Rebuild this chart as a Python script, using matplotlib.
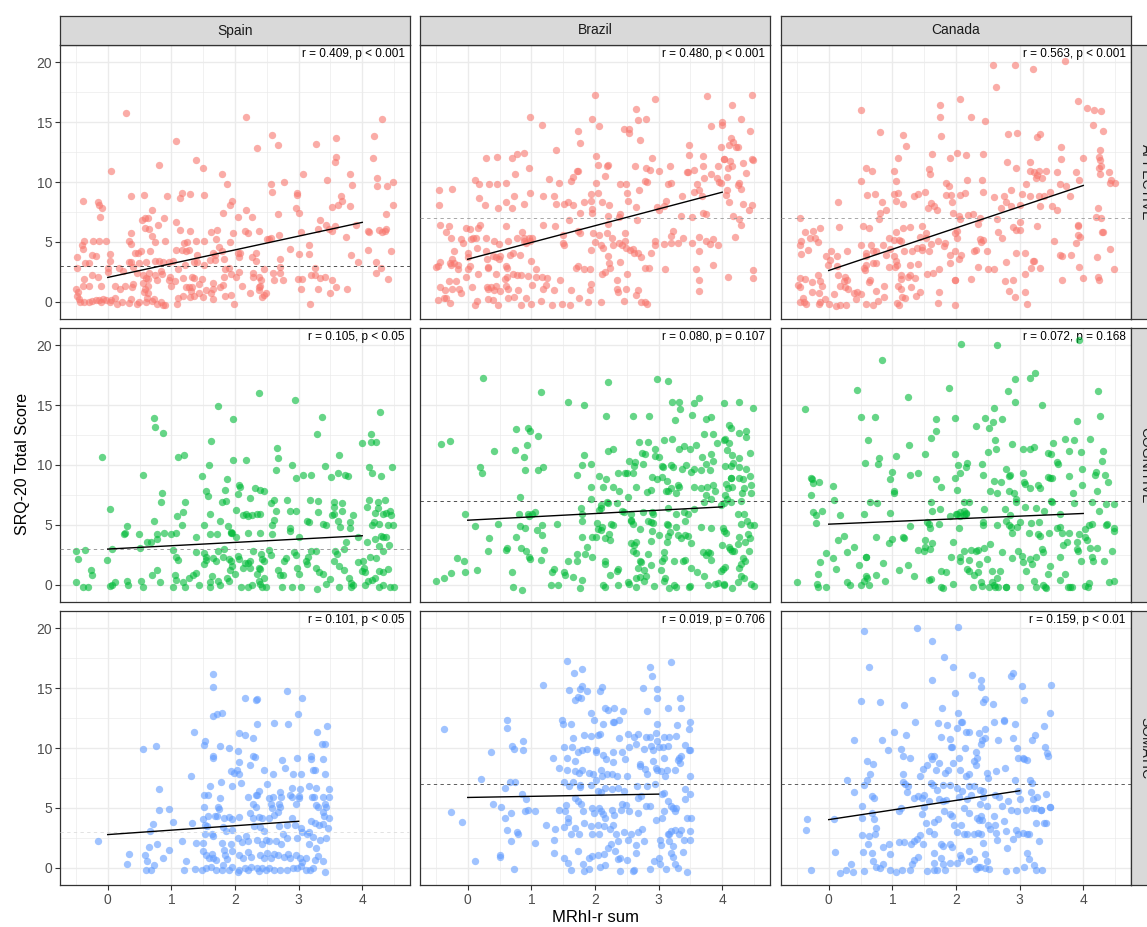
import matplotlib
matplotlib.use('Agg')
import matplotlib.pyplot as plt
import numpy as np

plt.rcParams['font.family'] = ['Liberation Sans', 'DejaVu Sans']

countries = ['Spain', 'Brazil', 'Canada']
domains = ['AFFECTIVE', 'COGNITIVE', 'SOMATIC']

# r / p annotations per domain (rows) and country (cols)
stats_text = [
    ['r = 0.409, p < 0.001', 'r = 0.480, p < 0.001', 'r = 0.563, p < 0.001'],
    ['r = 0.105, p < 0.05', 'r = 0.080, p = 0.107', 'r = 0.072, p = 0.168'],
    ['r = 0.101, p < 0.05', 'r = 0.019, p = 0.706', 'r = 0.159, p < 0.01'],
]
# clinical cutoff lines
cutoffs = [[3, 7, 7], [3, 7, 7], [3, 7, 7]]
# linear fits: intercept, slope, fitted x range max
fit_intercept = [[2.03, 3.55, 2.61], [2.98, 5.39, 5.06], [2.77, 5.87, 4.02]]
fit_slope = [[1.15, 1.40, 1.775], [0.278, 0.278, 0.223], [0.37, 0.093, 0.803]]
fit_xmax = [4, 4, 3]

# jittered (MRhI-r sum, SRQ-20 score) pairs
pts_spain_aff = [(0.29,15.8),(2.18,15.4),(4.31,15.3),(2.58,13.9),(3.59,13.7),(4.19,13.8),(1.07,13.4),(2.68,13.1),(3.27,13.2),(2.34,12.8),(3.58,12.1),(3.57,11.7),(4.17,12.0),(1.39,11.8),(0.81,11.4),(1.50,11.2),(0.05,10.9),(1.79,10.7),(3.07,10.7),(3.81,10.7),(3.44,10.2),(4.23,10.3),(4.49,10.0),(2.77,10.0),(1.87,9.8),(3.84,9.75),(2.56,9.8),(4.39,9.7),(4.23,9.7),(2.58,9.2),(2.98,9.1),(2.97,8.9),(1.16,9.1),(1.13,8.7),(1.30,9.0),(1.52,8.9),(0.57,8.9),(0.36,8.8),(0.93,8.8),(-0.39,8.4),(-0.15,8.3),(-0.13,8.1),(-0.09,7.8),(-0.12,7.1),(3.67,8.8),(3.68,8.4),(3.62,8.1),(3.80,8.0),(4.49,8.1),(1.96,8.4),(1.92,8.1),(2.96,7.8),(3.0,7.4),(3.52,7.9),(4.38,7.3),(1.81,7.4),(2.04,7.1),(2.18,7.7),(2.26,7.1),(2.68,7.3),(0.70,7.7),(0.54,6.8),(0.59,7.0),(0.63,7.0),(1.07,6.7),(0.88,7.0),(0.58,6.2),(0.65,6.1),(0.79,6.4),(0.70,5.5),(0.36,5.75),(1.13,6.0),(1.30,5.9),(1.62,5.8),(1.72,6.0),(1.97,5.7),(2.16,5.9),(2.21,5.75),(2.38,5.9),(2.53,5.2),(2.69,5.6),(3.33,6.8),(3.43,6.4),(3.47,6.1),(3.57,6.3),(3.30,6.1),(3.53,5.9),(3.74,5.4),(3.04,5.8),(4.09,5.9),(4.11,5.8),(4.27,6.0),(4.31,5.8),(4.38,6.05),(4.36,5.9),(3.90,6.4),(4.09,4.3),(4.45,4.2),(3.82,3.9),(3.94,3.3),(4.21,3.3),(4.29,2.8),(4.21,2.4),(4.41,1.9),(2.86,4.4),(3.01,4.0),(3.16,4.7),(3.17,4.0),(2.71,3.6),(2.70,2.9),(3.26,2.8),(3.20,2.2),(2.99,1.9),(3.05,1.9),(3.25,2.2),(3.34,2.0),(3.42,2.1),(3.52,1.8),(3.58,1.2),(3.76,1.05),(3.49,0.7),(3.30,1.1),(3.18,-0.2),(3.04,1.1),(2.61,1.8),(2.75,1.8),(2.71,2.4),(2.59,2.4),(2.46,2.7),(2.29,2.4),(2.28,2.1),(2.38,2.1),(2.41,1.8),(2.39,1.3),(2.38,1.2),(2.37,1.0),(2.45,0.6),(2.43,0.4),(2.49,0.7),(2.24,0.7),(1.98,-0.2),(2.11,1.3),(2.07,3.75),(2.08,4.1),(2.04,4.1),(2.33,4.1),(2.33,3.4),(2.26,3.7),(2.56,5.3),(2.50,5.2),(1.92,5.0),(1.70,5.2),(1.75,4.6),(1.80,4.2),(1.82,3.6),(1.85,2.7),(1.91,2.8),(1.93,2.3),(1.69,3.5),(1.61,3.5),(1.38,5.1),(1.25,5.0),(1.20,4.9),(1.27,4.3),(1.23,4.2),(1.17,4.3),(1.07,4.3),(0.90,5.1),(0.74,5.0),(0.66,4.25),(0.52,4.2),(0.47,4.1),(0.43,4.1),(0.34,5.1),(0.36,4.8),(-0.02,5.1),(-0.13,5.05),(-0.23,5.1),(-0.38,5.1),(-0.39,4.4),(-0.40,4.7),(-0.25,3.9),(-0.19,3.8),(-0.30,3.2),(-0.35,3.2),(-0.48,3.7),(-0.49,2.8),(0.03,4.0),(0.04,3.4),(0.01,2.8),(0.01,2.5),(-0.15,2.1),(-0.24,2.2),(-0.37,1.9),(-0.30,1.3),(-0.11,1.3),(-0.50,1.05),(-0.39,1.3),(0.18,2.8),(0.24,2.6),(0.33,3.3),(0.36,3.3),(0.40,2.9),(0.49,3.25),(0.60,3.3),(0.75,3.4),(0.81,3.4),(0.87,3.3),(0.97,3.3),(1.02,3.4),(1.10,2.7),(1.21,3.05),(1.36,3.3),(1.40,3.3),(1.51,3.1),(0.65,2.4),(0.63,1.9),(0.60,2.0),(0.56,2.2),(0.55,1.55),(0.46,2.4),(0.84,2.6),(0.86,2.3),(0.98,2.05),(0.96,1.8),(0.75,2.2),(0.77,1.8),(0.64,1.3),(0.59,1.1),(0.64,0.7),(0.57,0.8),(0.61,0.3),(0.39,1.5),(0.38,1.2),(0.27,1.3),(0.20,1.1),(0.12,1.3),(0.11,0.3),(0.05,0.15),(-0.03,0.15),(0.03,0.0),(-0.13,0.15),(-0.11,-0.05),(-0.19,0.15),(-0.25,0.1),(-0.30,0.0),(-0.38,0.0),(-0.43,0.0),(-0.45,0.2),(-0.48,0.5),(-0.46,0.8),(-0.08,0.25),(0.15,-0.2),(0.23,0.0),(0.33,-0.1),(0.36,0.2),(0.46,-0.2),(0.49,0.0),(0.77,-0.2),(0.87,-0.25),(0.90,-0.3),(0.84,0.0),(0.73,0.2),(0.69,0.1),(0.60,0.0),(1.09,-0.2),(1.10,0.35),(1.18,0.5),(1.29,0.4),(1.36,0.5),(1.43,0.7),(1.50,0.4),(1.54,0.95),(1.31,0.9),(1.23,1.2),(1.28,1.2),(1.32,1.2),(1.19,2.0),(1.32,2.1),(1.36,2.0),(1.48,1.9),(1.43,1.5),(1.65,1.1),(1.63,0.7),(1.65,0.2),(1.77,1.2),(1.81,1.4),(1.84,0.5),(1.94,0.6),(1.05,1.75),(0.99,1.3),(1.66,4.1),(1.68,3.9),(1.41,3.9),(1.52,5.1),(2.07,2.45),(2.02,2.1),(1.83,2.1),(1.66,1.55)]

pts_brazil_aff = [(2.0,17.3),(3.76,17.2),(4.47,17.3),(2.94,16.9),(4.15,16.4),(2.65,16.1),(0.98,15.4),(2.68,15.2),(2.80,15.3),(1.95,15.3),(4.29,15.25),(1.16,14.8),(2.06,14.7),(3.82,14.7),(3.99,14.75),(4.0,15.0),(2.45,14.4),(2.54,14.4),(2.53,14.05),(1.74,14.25),(4.44,14.3),(1.77,13.25),(2.71,13.5),(3.48,13.1),(3.98,12.9),(4.13,13.7),(4.17,13.3),(4.11,13.05),(4.22,12.95),(4.25,12.95),(1.39,12.7),(0.29,12.0),(0.46,12.1),(0.69,12.0),(0.77,12.3),(0.88,12.4),(0.96,11.2),(0.74,10.7),(2.01,12.2),(2.05,11.4),(2.19,11.3),(2.21,11.4),(2.16,10.5),(1.72,10.9),(1.73,10.9),(1.65,10.4),(1.63,10.1),(1.27,10.25),(1.43,9.9),(2.63,11.3),(2.80,11.2),(2.90,12.0),(2.86,11.0),(3.01,10.95),(3.18,11.3),(3.48,12.25),(3.45,10.85),(3.46,10.8),(3.55,11.0),(3.69,12.2),(3.69,11.3),(3.82,10.7),(3.93,11.35),(4.03,11.9),(4.02,11.95),(4.12,11.75),(4.09,11.2),(4.16,11.3),(4.32,11.6),(4.49,11.8),(4.47,11.9),(4.38,10.75),(3.72,10.3),(3.91,10.3),(3.95,10.0),(3.98,9.9),(4.26,9.9),(4.25,9.75),(4.29,9.4),(4.08,10.4),(4.07,9.3),(4.06,8.9),(4.10,8.3),(4.46,8.1),(4.42,7.7),(4.32,8.2),(4.17,7.2),(4.26,6.9),(4.29,6.4),(2.78,10.1),(2.81,10.0),(3.19,9.95),(3.14,9.8),(3.60,9.8),(3.55,9.2),(3.63,9.3),(3.68,8.8),(3.74,7.3),(3.69,7.4),(3.52,7.1),(3.37,8.8),(3.35,7.2),(3.11,8.4),(3.09,8.0),(2.98,7.9),(3.0,7.7),(2.48,9.8),(2.50,9.1),(2.52,8.4),(2.40,9.8),(2.69,9.3),(2.64,7.9),(2.66,6.8),(2.39,7.3),(2.37,7.1),(2.21,7.2),(2.21,6.5),(2.11,8.3),(2.22,8.1),(2.02,9.9),(2.05,9.1),(1.94,9.0),(1.95,7.75),(1.96,7.4),(1.83,8.3),(1.94,8.4),(1.77,7.4),(1.57,8.3),(1.52,8.2),(1.66,8.1),(1.36,8.8),(1.38,8.2),(1.19,8.8),(0.98,9.1),(0.88,8.2),(0.60,8.3),(0.69,7.8),(0.47,7.8),(0.27,8.1),(0.17,8.7),(0.17,9.8),(0.33,9.8),(0.46,9.8),(0.11,10.2),(0.72,8.8),(0.60,9.9),(-0.45,9.3),(-0.45,8.1),(-0.24,9.45),(-0.43,6.4),(-0.29,6.3),(-0.34,5.8),(-0.26,5.3),(-0.03,6.2),(0.03,6.05),(0.19,6.4),(0.16,6.2),(0.05,5.2),(0.08,5.3),(0.13,5.3),(-0.10,5.2),(-0.07,4.9),(0.28,5.35),(0.42,5.1),(0.49,4.8),(0.60,6.35),(0.63,5.1),(0.77,5.3),(0.86,5.8),(0.88,5.3),(0.89,5.1),(0.96,5.3),(1.01,5.3),(0.98,5.05),(0.92,4.9),(1.19,6.4),(1.37,6.35),(1.49,5.6),(1.50,4.9),(1.51,4.7),(1.59,6.8),(1.77,5.75),(1.73,5.9),(1.97,5.7),(2.07,5.6),(2.0,5.0),(1.93,4.3),(2.09,4.7),(2.13,4.5),(2.19,5.7),(2.27,5.3),(2.28,4.7),(2.47,5.7),(2.43,4.7),(2.49,4.5),(2.55,4.3),(2.38,4.9),(2.60,4.4),(2.62,4.1),(2.95,5.1),(2.94,4.7),(3.23,5.9),(3.19,5.5),(3.38,5.3),(3.30,4.9),(3.63,5.4),(3.63,4.2),(3.74,5.1),(3.85,5.2),(3.80,4.8),(3.93,4.7),(4.20,5.4),(-0.22,4.2),(-0.25,3.55),(-0.43,3.3),(-0.47,3.0),(-0.50,2.9),(-0.28,3.25),(-0.26,3.05),(-0.21,3.2),(-0.16,3.1),(-0.16,2.7),(0.0,4.1),(0.0,3.75),(0.03,2.95),(0.15,4.5),(0.29,4.2),(0.31,3.55),(0.32,2.85),(0.39,3.8),(0.51,3.8),(0.49,3.55),(0.44,3.7),(0.60,3.0),(0.62,2.8),(0.67,3.9),(0.71,4.1),(0.82,3.9),(0.99,3.4),(1.07,2.7),(1.08,2.1),(1.16,2.1),(1.25,2.0),(0.94,2.15),(0.71,2.3),(0.77,2.2),(0.84,2.2),(0.62,2.1),(0.58,1.9),(0.44,2.3),(0.16,2.3),(0.32,2.9),(-0.03,2.05),(0.0,2.75),(-0.29,1.75),(-0.18,1.7),(-0.44,1.2),(-0.35,1.0),(-0.24,1.1),(-0.14,1.1),(-0.10,0.7),(-0.47,0.15),(-0.37,0.35),(-0.34,0.3),(-0.28,-0.1),(0.07,1.2),(0.14,0.1),(0.12,-0.25),(0.30,1.25),(0.32,1.1),(0.36,1.2),(0.45,1.3),(0.42,1.0),(0.50,0.9),(0.32,0.25),(0.39,0.15),(0.47,-0.3),(0.64,0.3),(0.73,0.4),(0.60,1.3),(0.63,1.05),(0.79,1.0),(0.91,0.35),(1.01,1.4),(1.0,-0.2),(0.84,-0.3),(1.18,1.05),(1.23,1.4),(1.15,0.1),(1.33,-0.25),(1.36,1.0),(1.45,1.8),(1.48,-0.15),(1.60,-0.25),(1.62,0.95),(1.73,3.0),(1.70,2.85),(1.82,2.7),(1.92,2.7),(1.75,0.3),(1.89,0.0),(1.92,0.95),(1.94,1.5),(2.09,-0.05),(2.11,2.35),(2.15,2.5),(2.23,2.8),(2.22,3.2),(2.21,3.8),(2.34,1.8),(2.34,1.1),(2.36,0.8),(2.45,0.1),(2.50,2.3),(2.49,1.05),(2.67,0.95),(2.65,0.6),(2.73,0.0),(2.78,-0.05),(2.82,-0.15),(2.39,3.35),(2.79,2.8),(2.85,2.8),(3.10,2.7),(3.58,2.7),(3.64,1.8),(3.63,0.9),(3.85,3.05),(4.09,2.1),(4.49,1.95),(4.49,2.65),(2.68,4.1),(2.72,3.7),(2.88,4.05),(2.47,5.1),(3.19,4.9),(3.09,4.8),(3.52,4.9)]

pts_canada_aff = [(2.58,19.8),(2.93,19.75),(3.72,20.1),(3.21,19.4),(2.63,17.9),(3.92,16.75),(4.06,16.2),(4.17,16.05),(4.28,15.9),(2.07,16.9),(1.75,16.4),(1.75,15.4),(0.51,16.0),(2.24,15.4),(2.45,15.1),(4.16,14.8),(4.31,14.3),(0.81,14.2),(1.17,13.9),(1.77,13.8),(2.81,14.0),(2.96,14.1),(3.32,14.0),(3.27,13.75),(1.21,13.0),(3.65,12.9),(4.26,12.7),(1.09,12.0),(1.62,12.3),(1.91,12.0),(2.02,12.4),(2.16,12.25),(2.42,12.3),(3.65,11.9),(4.0,12.0),(4.25,12.1),(4.27,11.8),(4.25,11.2),(4.28,11.3),(4.27,10.7),(2.80,11.7),(3.16,11.7),(0.59,11.2),(0.68,10.9),(1.02,10.9),(1.58,11.05),(1.59,10.7),(2.95,11.2),(3.16,10.95),(3.22,10.8),(3.28,10.6),(3.31,10.9),(3.42,10.9),(3.59,10.85),(3.88,10.85),(4.40,10.85),(4.44,10.2),(4.50,9.9),(4.42,9.9),(0.51,10.1),(1.05,10.05),(1.85,9.9),(1.89,9.7),(2.17,10.2),(2.41,10.2),(3.26,10.3),(3.35,10.3),(3.10,9.8),(3.93,10.2),(3.64,9.8),(3.73,9.7),(1.02,9.0),(1.09,9.1),(1.05,8.45),(1.17,8.2),(1.34,8.8),(1.40,9.0),(1.51,9.2),(0.60,8.9),(0.72,9.0),(0.84,8.3),(0.90,7.7),(0.81,7.4),(0.79,6.9),(0.14,8.3),(1.61,8.25),(1.65,8.0),(1.70,7.7),(1.56,7.8),(1.84,8.95),(1.92,8.95),(1.94,8.3),(2.06,8.95),(2.14,9.1),(1.96,7.4),(2.05,7.2),(2.06,6.9),(2.27,7.3),(2.37,7.0),(2.35,6.5),(2.19,7.25),(2.43,9.2),(2.60,8.75),(2.75,8.8),(2.79,8.3),(2.86,9.3),(3.03,9.0),(2.70,7.8),(2.65,6.9),(2.86,8.0),(3.01,8.1),(3.17,8.8),(3.30,8.8),(3.38,8.8),(3.47,9.2),(3.01,6.7),(2.89,6.25),(2.94,6.0),(3.0,6.0),(3.28,6.3),(3.32,8.0),(3.51,8.0),(3.58,7.7),(3.79,8.8),(3.92,6.45),(3.92,6.3),(3.91,5.6),(3.95,5.4),(4.20,7.1),(4.28,7.0),(4.23,7.8),(4.31,5.8),(4.30,5.85),(4.42,4.4),(4.22,3.7),(4.49,2.75),(4.23,2.1),(4.25,1.85),(3.89,4.9),(3.80,3.9),(3.64,3.9),(3.66,3.8),(3.54,5.1),(3.93,2.9),(3.99,2.0),(3.66,1.85),(3.23,3.4),(3.21,3.4),(3.18,2.85),(3.32,2.8),(3.09,2.3),(3.09,4.1),(2.94,4.1),(2.78,3.35),(2.77,1.75),(2.89,1.85),(2.84,0.9),(2.93,0.4),(3.08,0.8),(3.12,-0.15),(2.72,5.3),(2.66,5.8),(2.49,4.2),(2.59,2.7),(2.50,2.7),(2.38,5.2),(2.42,5.15),(2.39,5.0),(2.32,4.3),(2.29,4.2),(2.35,2.9),(2.23,1.9),(1.99,4.2),(2.01,5.3),(1.99,5.7),(2.01,5.9),(2.08,3.9),(2.05,3.6),(1.90,3.9),(1.90,3.2),(1.99,1.8),(1.81,4.65),(1.83,4.9),(1.72,5.1),(1.60,4.8),(1.57,4.25),(1.46,4.55),(1.47,4.35),(1.39,4.45),(1.31,4.2),(1.43,5.4),(1.53,5.75),(1.46,6.3),(1.28,6.25),(1.17,6.2),(1.06,5.8),(0.94,5.3),(1.03,5.15),(1.10,5.15),(1.14,5.1),(0.97,4.4),(1.18,4.2),(1.03,3.8),(1.05,3.4),(0.90,3.9),(0.85,4.75),(0.67,4.75),(0.63,6.2),(0.54,6.35),(0.50,4.75),(0.59,4.1),(0.69,4.25),(0.74,4.2),(0.58,3.8),(0.59,3.1),(0.69,3.2),(0.74,3.2),(0.55,2.8),(0.57,2.65),(0.16,6.25),(-0.13,6.15),(-0.38,5.8),(-0.25,5.9),(-0.30,5.3),(-0.21,5.3),(-0.17,4.95),(-0.43,5.1),(-0.45,4.7),(-0.44,4.0),(-0.32,4.3),(-0.45,7.0),(-0.04,3.8),(0.04,4.25),(0.29,4.2),(0.13,3.8),(0.02,3.5),(-0.01,3.1),(0.13,3.0),(0.15,2.25),(0.26,2.1),(0.28,1.85),(0.24,1.7),(0.17,1.3),(0.26,1.2),(0.31,1.1),(0.39,0.7),(0.45,0.8),(-0.17,2.2),(-0.13,1.7),(-0.27,1.65),(-0.38,1.9),(-0.45,1.95),(-0.49,1.4),(-0.45,1.2),(-0.26,0.85),(-0.16,0.75),(-0.10,1.35),(-0.41,0.35),(-0.45,-0.05),(-0.39,-0.05),(-0.36,-0.2),(-0.15,-0.2),(-0.14,-0.05),(-0.06,0.2),(0.0,-0.2),(0.08,0.65),(0.12,-0.35),(0.18,-0.25),(0.27,-0.3),(0.43,0.2),(0.51,0.65),(0.58,-0.2),(0.70,-0.25),(0.77,0.1),(0.87,0.4),(0.65,1.8),(0.64,1.65),(0.75,0.9),(0.87,1.3),(0.95,2.9),(1.04,2.9),(1.08,3.1),(1.14,2.2),(1.13,1.9),(1.09,1.3),(1.14,1.05),(1.15,0.4),(1.20,0.35),(1.07,-0.1),(1.10,-0.25),(1.25,2.05),(1.28,2.2),(1.28,3.05),(1.36,1.95),(1.29,1.2),(1.37,0.45),(1.43,0.8),(1.54,2.35),(1.64,2.4),(1.73,0.8),(1.71,-0.1),(1.98,-0.3),(1.99,1.8),(1.73,2.7),(1.41,3.15),(1.53,5.35)]

pts_spain_cog = [(2.37,16.05),(2.94,15.4),(1.74,14.9),(1.97,13.8),(4.28,14.4),(3.36,14.0),(0.73,13.9),(0.75,13.2),(0.87,12.7),(3.29,12.6),(4.14,12.6),(4.00,11.8),(4.14,11.9),(4.21,11.9),(1.62,12.0),(-0.09,10.7),(1.11,10.7),(1.20,10.8),(2.66,11.4),(2.67,10.6),(1.97,10.4),(2.17,10.4),(3.64,10.8),(1.59,10.0),(2.64,9.6),(2.90,10.0),(3.42,9.9),(4.11,9.8),(4.46,9.8),(0.55,9.2),(1.48,9.1),(2.96,8.9),(3.07,9.2),(3.20,9.2),(3.51,9.0),(3.62,9.3),(3.73,9.2),(3.77,9.1),(4.15,9.3),(4.29,9.1),(1.88,8.8),(2.07,8.3),(2.04,7.6),(2.08,8.2),(2.31,8.1),(2.40,7.9),(2.45,7.8),(1.55,7.8),(1.58,7.4),(1.84,7.9),(1.79,6.9),(1.86,7.0),(0.85,7.7),(0.84,6.9),(1.21,6.9),(1.19,6.1),(1.09,5.75),(0.03,6.3),(0.72,5.3),(0.31,4.9),(0.27,4.3),(0.25,4.2),(0.49,4.2),(0.62,3.6),(0.68,3.55),(0.77,4.2),(0.77,3.8),(0.89,4.3),(0.99,4.2),(1.08,4.35),(1.16,4.95),(1.38,3.95),(1.51,5.0),(1.60,5.9),(1.60,4.2),(1.72,4.25),(1.76,5.3),(1.89,4.9),(1.93,4.4),(1.96,4.3),(2.02,6.25),(2.12,5.85),(2.18,5.9),(2.26,5.8),(2.21,5.7),(2.35,5.9),(2.40,5.95),(2.23,7.25),(2.57,6.8),(2.62,7.1),(2.64,6.2),(2.61,5.4),(2.58,4.95),(2.58,4.2),(2.39,4.3),(2.20,4.35),(2.81,7.1),(2.86,6.2),(2.96,6.2),(2.86,4.7),(2.86,4.5),(3.01,4.0),(3.13,5.3),(3.16,5.2),(3.18,7.1),(3.30,7.0),(3.30,6.05),(3.39,5.05),(3.43,5.0),(3.55,6.9),(3.55,6.5),(3.55,5.9),(3.68,6.8),(3.68,6.2),(3.52,5.8),(3.62,5.35),(3.65,4.8),(3.81,5.2),(3.81,4.7),(3.86,5.8),(4.10,7.1),(4.25,6.9),(4.08,6.5),(4.20,6.0),(4.24,6.4),(4.36,7.1),(4.37,6.0),(4.44,6.2),(4.45,5.8),(4.32,5.9),(4.16,5.0),(4.19,5.2),(4.26,5.1),(4.40,5.0),(4.49,5.0),(4.29,4.05),(4.33,4.0),(4.37,3.95),(4.20,3.8),(4.08,3.6),(4.42,3.3),(4.26,3.2),(4.33,2.8),(3.74,3.55),(3.93,4.0),(-0.50,2.8),(-0.35,2.9),(-0.46,2.15),(-0.26,1.25),(-0.24,0.8),(-0.50,0.2),(-0.39,-0.15),(-0.31,-0.15),(-0.01,2.05),(0.06,2.95),(0.03,-0.1),(0.07,0.0),(0.12,0.2),(0.31,0.3),(0.32,0.0),(0.52,0.35),(0.55,-0.15),(0.69,0.8),(0.77,1.25),(0.82,0.2),(0.50,3.1),(1.02,2.9),(1.08,2.35),(1.10,2.05),(1.02,-0.2),(1.06,0.8),(1.07,0.4),(1.19,0.2),(1.21,-0.15),(1.28,0.6),(1.34,0.8),(1.39,1.0),(1.38,2.7),(1.44,-0.05),(1.51,1.7),(1.54,2.35),(1.64,0.75),(1.60,0.25),(1.61,-0.15),(1.66,2.2),(1.70,1.95),(1.74,2.8),(1.83,2.95),(1.81,2.35),(1.90,2.15),(1.94,2.0),(1.92,1.25),(1.74,0.35),(1.76,0.0),(1.88,0.55),(1.91,0.3),(1.96,1.55),(2.0,0.9),(2.05,2.4),(2.07,2.15),(2.13,1.4),(2.15,1.8),(2.20,1.85),(2.24,1.95),(2.23,1.4),(2.26,0.0),(2.21,-0.2),(2.10,-0.2),(2.34,0.9),(2.38,0.3),(2.43,-0.2),(2.40,0.05),(2.46,0.55),(2.49,-0.15),(2.29,2.8),(2.41,2.55),(2.42,2.15),(2.46,1.95),(2.38,1.4),(2.40,1.35),(2.53,2.9),(2.57,2.5),(2.67,1.2),(2.71,0.8),(2.76,0.8),(2.74,-0.2),(2.89,-0.2),(2.77,2.0),(2.80,2.2),(2.93,2.7),(2.96,2.5),(2.97,1.4),(3.0,0.9),(3.03,-0.15),(3.11,2.0),(3.13,1.7),(3.15,2.35),(3.20,2.8),(3.27,2.8),(3.28,1.4),(3.32,1.1),(3.38,0.9),(3.29,-0.35),(3.43,0.1),(3.49,0.5),(3.57,2.85),(3.60,2.6),(3.55,2.0),(3.64,1.55),(3.72,1.25),(3.79,0.55),(3.63,-0.2),(3.82,0.15),(3.85,0.0),(3.82,-0.2),(3.72,2.95),(3.93,1.9),(4.01,2.0),(3.99,1.15),(4.03,1.4),(4.05,1.05),(4.09,0.35),(4.04,-0.05),(4.15,0.4),(4.20,0.55),(4.27,-0.2),(4.21,2.2),(4.12,2.35),(4.27,1.15),(4.33,1.1),(4.40,1.35),(4.43,-0.15),(4.50,-0.15),(4.32,0.0),(1.51,2.65),(1.54,2.1),(2.02,4.0),(1.94,4.35)]

pts_brazil_cog = [(0.24,17.3),(2.98,17.2),(3.15,17.0),(2.21,16.9),(1.15,16.1),(1.58,15.25),(1.83,15.05),(3.64,15.6),(3.56,15.2),(4.03,15.2),(4.26,15.3),(3.21,15.3),(3.32,15.3),(3.34,14.7),(4.48,14.75),(2.17,14.05),(2.60,14.1),(2.85,14.05),(3.53,14.15),(3.74,13.8),(3.82,14.0),(3.25,13.75),(0.76,13.0),(0.95,13.1),(0.98,12.8),(1.11,12.4),(-0.42,11.75),(-0.28,12.0),(0.41,11.2),(0.74,11.25),(0.93,11.7),(0.88,10.7),(0.19,9.8),(0.22,9.35),(0.90,9.6),(1.10,9.6),(1.18,9.8),(0.82,7.35),(1.72,9.2),(1.79,10.0),(1.82,10.8),(1.94,10.1),(2.21,11.2),(2.28,11.3),(3.72,12.6),(3.86,12.6),(4.02,12.05),(4.04,12.2),(4.10,13.3),(4.14,13.05),(4.26,12.7),(4.37,12.8),(4.37,12.3),(3.92,11.8),(4.10,11.8),(4.07,11.25),(4.15,10.8),(4.26,10.6),(4.43,11.0),(2.69,11.9),(2.83,11.9),(3.09,12.1),(3.21,12.2),(3.40,11.6),(3.49,11.35),(3.32,11.3),(3.59,11.7),(3.68,10.7),(3.83,10.9),(2.74,11.0),(2.79,10.9),(2.95,10.75),(3.0,10.7),(2.95,11.35),(2.53,10.3),(2.61,9.9),(2.63,10.25),(2.75,10.1),(3.05,9.95),(3.07,9.8),(3.05,9.0),(3.20,10.0),(3.23,9.8),(3.37,9.7),(3.43,10.0),(3.51,9.4),(3.56,9.7),(3.66,9.6),(3.74,10.1),(3.81,9.6),(3.85,10.3),(4.05,9.9),(4.13,9.95),(4.17,10.2),(4.26,9.8),(4.38,9.7),(4.43,9.1),(4.13,8.9),(4.14,8.95),(4.27,8.9),(4.32,8.8),(2.36,9.35),(2.47,9.3),(2.51,9.3),(2.59,9.3),(2.17,8.85),(2.07,9.05),(1.93,8.15),(2.13,8.15),(2.28,8.2),(1.94,7.2),(2.38,7.8),(2.64,8.15),(2.90,9.0),(2.98,8.8),(2.81,7.75),(2.88,7.9),(3.11,7.8),(3.15,7.8),(3.19,8.1),(3.28,7.7),(3.31,8.3),(3.32,8.15),(3.13,8.65),(3.55,8.2),(3.66,8.05),(3.76,8.2),(3.85,8.3),(3.88,7.8),(3.82,7.2),(3.72,6.95),(3.98,6.65),(4.02,6.8),(4.06,8.4),(4.09,8.05),(4.16,8.2),(4.04,7.5),(4.08,7.15),(4.14,6.95),(4.34,8.05),(4.31,7.7),(4.45,8.3),(4.45,7.65),(4.29,7.0),(2.52,7.3),(2.19,6.95),(2.21,6.85),(2.10,6.7),(2.07,6.25),(2.34,6.8),(1.78,6.4),(1.80,5.9),(2.09,6.4),(2.42,6.2),(2.46,6.1),(2.57,5.95),(2.75,6.1),(2.90,6.05),(2.91,5.9),(3.14,6.4),(3.28,5.9),(3.40,6.1),(3.46,5.9),(3.55,6.3),(-0.04,5.95),(0.81,5.9),(0.94,5.9),(1.01,5.9),(1.06,6.05),(0.97,5.7),(0.12,4.9),(0.34,3.9),(0.32,2.8),(0.48,5.1),(0.82,4.9),(0.90,4.7),(0.76,3.95),(0.83,3.05),(0.61,3.05),(0.60,2.9),(0.92,2.8),(0.96,2.3),(0.98,2.15),(1.09,4.6),(1.17,4.95),(1.16,4.15),(1.20,2.9),(1.40,5.1),(1.15,2.05),(-0.17,2.2),(-0.06,2.0),(-0.05,1.1),(0.14,1.2),(-0.50,0.35),(-0.37,0.6),(-0.27,0.95),(0.70,1.05),(0.71,-0.2),(0.86,-0.4),(1.31,-0.05),(1.42,0.0),(1.36,1.3),(1.33,1.1),(1.52,1.05),(1.57,2.0),(1.53,0.85),(1.66,0.65),(1.71,2.6),(1.71,2.0),(1.77,-0.3),(1.80,0.4),(1.84,2.6),(1.87,3.15),(1.79,3.95),(1.79,5.35),(1.95,2.35),(1.95,4.0),(2.01,4.0),(2.03,5.15),(2.05,4.65),(2.11,4.8),(2.09,4.6),(2.16,3.9),(2.22,4.2),(2.24,3.7),(2.25,5.1),(2.28,5.0),(2.15,2.0),(2.15,1.7),(2.24,0.8),(2.34,1.15),(2.36,1.3),(2.13,-0.05),(2.15,-0.2),(2.36,-0.05),(2.52,0.2),(2.53,0.1),(2.56,5.4),(2.59,5.1),(2.57,5.3),(2.57,3.45),(2.62,3.3),(2.60,2.8),(2.64,2.65),(2.65,3.6),(2.70,2.0),(2.73,1.9),(2.68,1.4),(2.77,1.25),(2.71,0.65),(2.65,0.55),(2.80,0.7),(2.77,0.35),(2.64,-0.15),(2.93,-0.1),(2.84,5.3),(2.88,5.2),(2.91,5.15),(2.71,4.65),(2.89,4.5),(3.0,4.15),(2.88,3.65),(2.83,2.55),(2.88,1.65),(3.04,1.25),(3.09,2.7),(3.09,2.2),(3.06,1.95),(3.10,0.55),(3.08,0.3),(3.13,5.1),(3.15,4.95),(3.15,4.1),(3.13,3.6),(3.18,4.4),(3.28,4.8),(3.30,4.15),(3.35,3.9),(3.38,2.0),(3.41,2.05),(3.24,2.0),(3.24,0.0),(3.28,-0.2),(3.17,-0.3),(3.42,5.3),(3.41,4.15),(3.46,4.1),(3.51,3.5),(3.51,1.4),(3.60,1.05),(3.48,-0.15),(3.50,-0.1),(3.66,4.8),(3.82,4.7),(3.70,2.7),(3.77,2.7),(3.81,2.65),(3.75,2.5),(3.82,2.1),(3.71,0.7),(3.77,0.0),(3.88,0.05),(3.94,0.15),(4.01,4.7),(4.03,4.45),(4.06,4.3),(3.99,3.3),(4.10,3.15),(4.16,2.8),(4.12,3.0),(4.19,2.8),(3.98,1.15),(4.01,1.35),(4.05,1.45),(4.02,0.0),(4.03,0.05),(4.15,-0.3),(4.25,0.2),(4.25,5.9),(4.34,5.95),(4.39,5.3),(4.29,5.1),(4.43,4.95),(4.50,4.95),(4.41,4.2),(4.43,3.9),(4.27,4.0),(4.35,3.6),(4.25,3.4),(4.42,2.85),(4.33,2.2),(4.36,2.0),(4.30,1.75),(4.27,1.4),(4.30,0.7),(4.34,0.55),(4.45,0.05),(4.50,-0.1),(3.74,7.5)]

pts_canada_cog = [(2.08,20.1),(2.64,20.0),(3.94,20.4),(0.83,18.75),(3.24,17.7),(3.17,17.3),(2.93,17.2),(2.82,16.2),(2.93,15.3),(0.45,16.25),(1.89,16.4),(1.24,15.7),(4.23,16.2),(3.35,15.0),(2.60,14.8),(4.26,14.1),(-0.38,14.7),(0.51,14.0),(0.73,14.0),(1.68,13.8),(1.99,13.9),(2.45,13.9),(2.73,13.8),(2.32,13.25),(2.52,13.05),(2.58,13.55),(3.90,13.7),(1.69,12.8),(1.61,12.25),(0.61,12.05),(1.26,11.7),(2.62,12.1),(2.63,11.35),(2.50,11.05),(2.88,11.75),(3.05,11.35),(3.17,11.35),(3.22,11.5),(3.52,11.8),(3.44,11.0),(3.50,10.9),(3.71,12.2),(3.78,11.2),(3.85,12.05),(4.10,12.15),(3.97,11.05),(4.31,11.15),(4.29,10.3),(4.19,9.15),(1.99,10.95),(2.03,10.0),(2.17,10.15),(2.41,10.1),(1.52,10.9),(1.06,10.75),(0.79,10.6),(0.78,10.1),(0.57,10.2),(1.0,9.4),(1.28,9.2),(1.40,9.3),(0.96,8.8),(1.02,7.8),(1.03,7.7),(1.69,8.85),(1.77,8.15),(1.99,8.95),(2.01,7.9),(2.16,9.85),(2.06,9.3),(2.42,9.2),(2.60,8.7),(2.70,8.55),(2.78,9.7),(2.84,9.1),(2.85,9.15),(2.83,7.8),(2.91,7.65),(3.06,9.3),(3.07,8.6),(3.08,8.4),(3.17,8.05),(3.29,8.3),(3.32,8.05),(3.45,9.0),(3.48,8.95),(3.51,8.9),(3.59,10.25),(3.60,10.1),(3.77,9.05),(3.98,9.7),(3.98,8.3),(4.20,9.45),(4.39,8.6),(4.34,9.2),(4.21,7.8),(-0.27,8.85),(-0.16,8.6),(-0.24,8.5),(-0.28,8.9),(0.06,8.25),(0.09,7.05),(-0.25,6.1),(-0.10,6.2),(-0.20,5.15),(0.18,5.8),(0.56,5.95),(0.65,6.9),(0.76,6.85),(0.97,6.0),(1.28,4.9),(1.60,6.95),(1.63,6.15),(1.75,6.35),(1.90,5.75),(2.0,5.9),(2.02,5.95),(2.06,6.1),(2.12,6.15),(2.15,5.9),(2.16,6.0),(2.07,5.7),(2.12,5.85),(2.13,6.9),(2.20,6.95),(2.44,6.3),(2.54,7.8),(2.64,7.7),(2.77,6.3),(2.85,5.85),(2.94,7.15),(2.94,6.9),(3.09,6.5),(3.25,6.4),(3.38,6.15),(3.50,7.0),(3.51,6.9),(3.63,5.95),(3.84,7.65),(3.85,6.8),(4.14,6.9),(4.25,6.15),(4.36,6.75),(4.48,6.75),(1.55,5.25),(1.57,5.1),(1.59,4.7),(1.74,5.05),(2.05,4.7),(2.43,5.25),(2.43,4.95),(2.65,4.95),(2.79,5.3),(2.83,4.95),(2.87,4.8),(2.96,4.8),(3.01,5.2),(2.88,4.3),(3.18,5.15),(3.30,5.2),(3.15,4.3),(3.29,4.25),(3.32,4.1),(3.46,4.3),(3.59,4.7),(3.64,4.8),(3.67,4.3),(3.77,4.3),(3.74,3.6),(3.93,4.2),(4.03,4.65),(4.09,5.0),(4.14,5.1),(4.37,5.05),(4.35,4.95),(4.49,4.7),(4.48,4.45),(3.90,3.6),(4.02,4.0),(4.06,3.75),(0.14,3.7),(0.24,4.1),(-0.05,2.65),(0.06,2.2),(0.12,1.35),(-0.13,1.9),(-0.17,0.9),(-0.50,0.2),(-0.19,0.1),(-0.17,-0.2),(-0.05,-0.2),(0.28,2.75),(0.39,3.15),(0.58,2.35),(0.59,2.3),(0.47,1.65),(0.29,0.2),(0.33,0.0),(0.51,-0.05),(0.58,0.7),(0.60,0.6),(0.55,0.35),(0.64,0.0),(0.74,0.8),(0.88,0.35),(0.74,4.0),(0.99,3.8),(0.95,3.45),(1.16,3.95),(1.18,3.9),(0.85,1.85),(1.10,1.25),(1.25,1.65),(1.34,0.75),(1.41,2.9),(1.50,2.85),(1.52,3.15),(1.59,3.0),(1.52,3.7),(1.62,3.5),(1.58,0.4),(1.60,0.5),(1.77,1.15),(1.85,1.05),(1.77,-0.2),(1.79,-0.3),(1.95,0.1),(1.92,2.3),(2.06,2.3),(2.12,2.8),(1.96,3.55),(2.07,2.0),(2.20,2.1),(2.17,1.35),(2.24,2.9),(2.31,2.8),(2.34,2.9),(2.21,1.15),(2.28,0.85),(2.35,1.1),(2.36,1.7),(2.26,-0.2),(2.41,-0.1),(2.39,0.2),(2.44,3.1),(2.54,3.4),(2.49,2.15),(2.52,-0.2),(2.59,0.0),(2.62,-0.15),(2.66,-0.2),(2.57,0.2),(2.57,1.15),(2.69,1.15),(2.65,0.55),(2.79,-0.2),(2.78,-0.15),(2.73,2.7),(2.88,2.2),(2.97,2.8),(3.0,-0.2),(3.03,2.4),(3.06,1.9),(3.10,1.15),(3.17,2.15),(3.20,1.7),(3.23,0.35),(3.26,-0.2),(3.40,-0.2),(3.37,-0.05),(3.42,-0.3),(3.35,3.0),(3.37,2.7),(3.25,2.3),(3.48,1.55),(3.44,0.9),(3.64,2.3),(3.68,3.3),(3.63,0.4),(3.71,0.9),(3.79,-0.2),(3.82,-0.15),(3.76,-0.15),(3.90,3.0),(3.96,2.0),(3.91,2.8),(4.03,-0.1),(4.09,0.15),(4.08,-0.15),(4.11,3.1),(4.13,2.3),(4.21,3.1),(4.16,2.0),(4.32,2.0),(4.45,2.8),(4.40,0.25),(4.49,0.35),(-0.20,5.85),(-0.28,7.5)]

pts_spain_som = [(1.66,16.2),(1.65,15.1),(2.82,14.75),(2.15,14.2),(2.34,14.1),(2.33,14.0),(3.05,14.2),(1.66,12.65),(1.72,12.8),(1.79,12.9),(2.99,12.8),(2.34,12.0),(2.61,12.05),(2.84,12.0),(1.36,11.3),(3.45,11.8),(3.29,11.3),(2.07,11.25),(2.16,11.1),(2.29,10.8),(1.53,10.6),(1.51,10.25),(1.76,10.2),(0.56,9.9),(0.76,10.2),(1.90,10.0),(2.04,9.75),(3.36,10.3),(3.41,10.3),(1.65,9.3),(1.66,9.15),(2.29,9.3),(2.31,9.25),(2.06,8.8),(2.03,8.2),(2.24,8.6),(2.45,8.15),(2.60,7.8),(2.74,9.0),(2.79,8.3),(2.97,9.15),(3.19,9.3),(3.20,9.1),(3.39,9.1),(3.22,8.2),(3.26,8.15),(3.42,7.8),(1.31,7.7),(1.94,8.05),(1.98,7.9),(2.07,7.8),(1.78,7.15),(1.95,6.8),(2.10,7.05),(2.51,7.0),(2.91,7.8),(3.03,7.85),(2.90,6.65),(3.02,6.6),(0.80,6.6),(1.61,6.8),(1.52,6.05),(1.58,6.1),(1.76,5.8),(2.20,5.9),(2.33,6.05),(2.38,6.4),(2.35,6.1),(2.53,5.85),(2.59,5.9),(2.70,6.3),(2.72,5.9),(2.87,6.05),(2.89,5.9),(3.0,6.0),(3.0,5.85),(3.17,6.8),(3.27,6.65),(3.21,5.95),(3.24,5.95),(3.39,5.95),(3.48,5.9),(0.81,4.8),(0.97,4.9),(1.52,5.05),(1.73,5.05),(1.75,4.9),(2.29,5.3),(2.33,5.1),(2.56,5.3),(2.58,5.0),(2.69,5.3),(2.71,5.05),(2.96,5.3),(3.28,5.2),(3.31,5.05),(3.38,4.65),(3.40,4.3),(0.71,3.65),(1.02,3.8),(1.33,3.7),(0.67,3.05),(0.65,1.75),(0.77,1.95),(-0.16,2.2),(0.34,1.15),(0.30,0.35),(0.59,1.05),(0.61,0.6),(0.73,0.2),(0.60,-0.2),(0.68,-0.15),(1.16,2.2),(1.20,-0.2),(1.38,2.1),(1.37,-0.1),(1.50,4.1),(1.57,4.3),(1.68,4.35),(1.71,4.3),(1.53,3.6),(1.56,3.45),(1.53,2.85),(1.64,2.8),(1.65,2.65),(1.49,2.1),(1.50,1.4),(1.55,1.05),(1.59,0.85),(1.64,1.15),(1.66,0.85),(1.70,0.65),(1.48,-0.15),(1.55,0.0),(1.62,0.1),(1.70,-0.15),(1.79,-0.2),(1.82,4.15),(1.91,4.2),(1.96,4.05),(2.06,4.2),(1.81,3.4),(1.86,3.05),(1.96,3.15),(1.80,2.05),(1.93,2.0),(1.96,1.4),(1.82,1.45),(1.85,1.1),(1.88,0.7),(1.81,0.2),(1.91,-0.15),(1.95,0.05),(2.05,-0.35),(2.07,-0.2),(2.05,2.5),(2.11,2.15),(2.17,2.65),(2.20,2.2),(2.07,1.1),(2.13,0.8),(2.20,1.3),(2.25,0.9),(2.15,0.0),(2.20,-0.2),(2.25,0.05),(2.35,0.0),(2.38,-0.3),(2.24,4.6),(2.28,4.15),(2.38,4.2),(2.42,4.15),(2.30,3.5),(2.40,3.4),(2.45,3.05),(2.34,2.35),(2.42,2.0),(2.49,2.35),(2.53,2.2),(2.40,1.05),(2.46,0.85),(2.51,1.2),(2.57,0.85),(2.61,1.15),(2.43,0.0),(2.48,-0.15),(2.54,0.0),(2.62,-0.2),(2.54,4.15),(2.62,4.4),(2.67,4.65),(2.69,3.5),(2.76,2.85),(2.82,3.6),(2.64,2.2),(2.73,2.0),(2.82,2.5),(2.67,1.1),(2.77,0.9),(2.83,1.15),(2.86,0.85),(2.71,-0.15),(2.81,-0.2),(2.91,0.0),(2.98,-0.05),(2.89,4.15),(2.94,3.6),(3.03,3.35),(2.98,2.5),(3.06,2.95),(3.13,2.8),(3.17,3.0),(2.96,1.05),(3.02,0.85),(3.06,0.5),(3.12,0.85),(3.04,0.15),(3.12,-0.2),(3.18,-0.15),(3.22,0.0),(3.19,3.9),(3.25,3.75),(3.32,3.6),(3.38,3.65),(3.46,3.3),(3.22,2.6),(3.33,2.35),(3.43,2.5),(3.17,2.0),(3.27,1.65),(3.25,0.65),(3.30,0.95),(3.38,0.55),(3.41,-0.35),(3.41,5.3),(3.43,5.05),(3.47,4.15),(3.48,6.6),(1.23,0.55),(0.87,0.85),(0.97,1.45)]

pts_brazil_som = [(1.56,17.3),(3.20,17.2),(2.86,16.8),(1.80,16.6),(1.67,16.3),(2.90,16.0),(1.18,15.3),(1.79,15.2),(1.76,14.95),(1.78,14.2),(1.74,14.3),(1.69,14.0),(1.59,14.85),(1.87,14.8),(2.08,14.8),(2.11,15.1),(2.76,15.05),(2.97,14.9),(2.98,14.15),(3.33,14.15),(3.35,13.3),(3.14,13.3),(2.16,13.3),(2.20,13.15),(2.30,13.3),(2.44,13.05),(1.93,12.95),(2.81,13.05),(0.61,12.3),(0.62,11.65),(-0.38,11.6),(1.48,12.35),(1.50,12.0),(1.62,12.0),(1.98,12.3),(2.12,12.0),(2.28,12.15),(2.30,12.2),(2.37,12.35),(2.98,12.0),(3.29,11.9),(3.50,12.2),(3.47,11.6),(0.70,10.2),(0.72,9.95),(0.87,10.6),(0.87,9.8),(0.37,9.65),(1.66,10.8),(1.83,11.1),(1.94,11.0),(2.04,11.05),(2.08,11.2),(2.38,10.85),(2.52,11.2),(2.62,10.9),(2.68,11.2),(2.80,10.95),(2.86,10.95),(2.96,11.25),(2.98,10.55),(3.08,10.9),(3.17,10.95),(3.27,11.0),(3.42,10.25),(3.48,9.85),(1.52,10.1),(1.64,10.1),(1.74,9.7),(1.80,9.8),(1.88,9.9),(2.01,9.8),(2.02,9.7),(2.13,9.4),(2.18,9.1),(2.29,9.65),(2.28,8.85),(2.43,9.65),(2.47,9.05),(2.53,10.1),(2.65,10.35),(2.71,8.7),(2.77,9.95),(2.88,10.2),(2.91,9.8),(2.91,8.9),(3.0,10.05),(3.07,10.1),(3.15,10.15),(3.09,9.15),(3.32,9.15),(3.35,9.3),(3.34,8.75),(1.34,9.15),(1.43,8.3),(1.56,9.15),(1.56,8.2),(1.68,8.9),(1.69,8.05),(1.75,7.95),(1.79,8.15),(1.91,7.95),(1.97,7.8),(2.10,8.2),(2.11,7.65),(2.19,7.8),(2.27,7.85),(2.35,7.65),(2.51,7.7),(2.70,8.5),(2.79,8.25),(2.81,7.85),(2.96,8.3),(2.98,8.2),(3.04,8.1),(3.10,7.7),(3.13,8.2),(3.25,8.15),(3.31,9.0),(3.49,7.65),(3.50,9.85),(0.21,7.4),(0.58,6.7),(0.66,7.15),(0.75,7.15),(0.85,6.2),(0.92,5.75),(0.39,5.35),(0.53,5.05),(0.58,4.15),(0.68,4.55),(-0.26,4.65),(-0.09,3.8),(0.90,4.7),(0.94,4.8),(1.06,4.7),(1.52,7.2),(1.59,6.8),(1.66,7.2),(1.76,6.9),(1.76,6.75),(1.93,6.9),(2.01,7.3),(2.05,6.4),(2.09,6.35),(2.15,6.65),(2.26,6.6),(2.36,6.7),(2.46,6.45),(2.66,6.8),(2.68,5.85),(2.73,6.0),(2.81,6.85),(2.94,7.0),(3.06,6.15),(3.09,6.25),(3.15,5.55),(3.19,5.15),(3.23,5.0),(3.25,4.7),(3.28,5.0),(3.42,6.6),(3.49,6.2),(3.41,5.7),(3.45,4.15),(3.51,4.15),(1.44,4.8),(1.53,4.7),(1.55,5.2),(1.58,4.15),(1.68,5.85),(1.74,5.55),(1.78,5.3),(1.81,4.7),(1.95,5.0),(1.99,4.55),(2.07,5.0),(2.09,4.7),(2.12,4.45),(2.15,4.15),(2.27,4.85),(2.30,4.4),(2.41,4.85),(2.43,5.3),(2.49,5.2),(2.54,4.7),(2.67,4.6),(2.80,5.15),(2.86,5.15),(2.96,3.95),(3.05,4.15),(3.09,4.7),(1.23,3.6),(1.37,3.25),(1.36,2.35),(1.51,3.4),(1.58,3.8),(1.62,2.85),(1.69,3.3),(1.75,2.85),(1.82,3.7),(1.93,3.5),(1.96,2.8),(2.04,3.6),(2.07,2.85),(2.14,3.5),(2.23,3.2),(2.28,3.6),(2.33,2.8),(2.36,2.25),(2.45,2.95),(2.52,2.35),(2.57,2.85),(2.68,2.95),(2.74,3.2),(2.77,2.25),(2.65,1.9),(3.02,2.35),(3.15,2.8),(3.19,3.05),(3.25,3.15),(3.32,2.85),(3.35,3.15),(3.49,3.05),(3.50,2.3),(0.61,3.15),(0.78,3.0),(0.68,2.2),(0.79,2.85),(1.06,2.05),(0.50,1.1),(0.51,0.9),(0.12,0.6),(0.72,-0.1),(1.35,1.25),(1.52,0.85),(1.57,0.4),(1.63,-0.2),(1.73,1.4),(1.81,0.35),(1.83,-0.3),(1.91,-0.1),(1.91,0.85),(1.96,1.0),(2.04,1.1),(2.08,0.1),(2.14,1.15),(2.16,0.2),(2.20,1.65),(2.25,1.95),(2.32,1.4),(2.36,0.7),(2.40,0.85),(2.39,-0.3),(2.50,0.65),(2.59,-0.3),(2.62,-0.15),(2.65,1.25),(2.87,-0.1),(2.93,0.55),(3.0,0.85),(3.02,0.35),(3.12,-0.1),(3.04,1.9),(3.19,1.25),(3.23,0.9),(3.25,0.3),(3.39,1.35),(3.30,0.0),(3.45,-0.35),(3.17,2.8),(3.16,2.2),(3.23,1.85),(3.40,2.3)]

pts_canada_som = [(0.55,19.8),(1.38,20.0),(2.03,20.1),(1.63,18.9),(1.81,17.6),(0.64,16.8),(1.96,16.75),(2.25,16.1),(2.39,15.7),(2.40,15.1),(2.89,16.3),(2.86,16.05),(1.63,15.7),(3.04,15.2),(3.50,15.3),(1.99,14.6),(0.51,13.9),(0.81,13.85),(1.18,13.6),(2.46,14.1),(2.42,13.8),(2.58,13.65),(3.07,14.0),(1.78,13.3),(2.03,12.9),(3.48,12.95),(1.36,12.2),(1.72,12.05),(1.86,11.9),(2.08,12.2),(2.09,12.15),(2.01,11.7),(2.15,11.35),(2.21,11.35),(2.59,12.15),(2.75,12.3),(2.76,12.25),(2.93,12.0),(3.38,11.85),(1.02,11.35),(0.39,10.7),(0.84,10.7),(0.93,9.8),(1.22,11.1),(1.76,10.9),(1.90,10.75),(1.92,10.1),(1.93,10.05),(2.14,10.0),(2.36,11.25),(2.46,11.55),(2.46,10.85),(2.41,10.7),(2.39,10.3),(2.32,9.7),(2.66,10.7),(2.90,10.8),(3.24,11.1),(3.19,10.7),(3.40,10.1),(3.43,9.6),(3.44,9.3),(2.96,10.0),(2.97,9.15),(3.05,9.15),(1.13,9.9),(0.60,8.95),(0.69,8.7),(0.65,7.8),(0.60,7.3),(0.28,7.35),(0.56,6.95),(0.39,6.3),(1.16,9.3),(1.27,9.2),(1.48,8.25),(1.54,8.6),(1.61,9.3),(1.63,9.1),(1.65,9.3),(1.69,8.15),(1.74,8.75),(1.82,7.95),(1.87,8.15),(1.96,8.75),(2.05,9.15),(2.06,8.2),(2.16,7.65),(2.21,7.85),(2.33,9.15),(2.28,8.95),(2.31,8.6),(2.49,7.9),(2.50,7.5),(2.63,8.1),(2.77,8.3),(2.93,7.3),(3.16,7.3),(3.19,7.1),(3.07,9.1),(3.12,9.0),(1.17,7.8),(1.16,7.15),(1.24,6.85),(1.23,6.3),(1.34,5.85),(1.40,6.0),(1.20,7.0),(1.43,7.7),(1.60,7.1),(1.64,6.95),(1.70,6.5),(1.79,6.9),(1.91,6.95),(2.02,6.65),(2.09,6.4),(2.04,5.95),(2.20,6.8),(2.29,6.85),(2.37,6.5),(2.42,6.45),(2.23,6.1),(2.17,5.75),(2.43,5.9),(2.37,5.3),(2.49,5.15),(2.62,6.1),(2.67,5.95),(2.73,5.15),(2.81,5.55),(2.98,6.4),(3.0,5.75),(2.86,4.8),(2.96,4.7),(3.10,4.8),(3.18,6.35),(3.21,5.75),(3.28,5.95),(3.42,6.15),(3.21,4.95),(3.25,5.0),(3.34,4.8),(3.47,5.05),(3.48,5.1),(1.49,6.1),(1.46,5.8),(1.57,5.55),(1.73,5.7),(1.79,5.55),(1.85,5.65),(1.10,4.7),(1.14,5.0),(0.68,6.0),(0.71,5.85),(0.52,5.15),(0.52,4.15),(0.68,4.6),(0.71,4.1),(0.74,3.35),(-0.34,4.1),(-0.36,3.15),(0.09,4.1),(0.10,1.3),(-0.28,-0.2),(0.18,-0.4),(0.27,-0.2),(0.38,-0.35),(0.35,0.35),(0.52,2.7),(0.54,1.3),(0.61,1.95),(0.68,1.25),(0.69,0.55),(0.74,0.05),(0.81,0.0),(0.86,0.3),(0.64,2.65),(0.73,2.8),(0.85,1.75),(0.95,1.95),(0.96,1.15),(0.56,-0.3),(0.96,-0.15),(1.06,-0.35),(1.15,-0.2),(1.28,-0.2),(1.10,2.15),(1.18,2.15),(1.30,2.0),(1.34,2.2),(1.39,2.4),(1.43,2.7),(1.48,1.95),(1.31,0.35),(1.34,0.65),(1.40,0.9),(1.54,-0.3),(1.70,-0.2),(1.66,-0.2),(1.65,1.2),(1.65,0.4),(1.77,0.85),(1.79,0.35),(1.83,-0.15),(1.91,0.4),(1.57,3.05),(1.66,2.8),(1.76,1.95),(1.79,1.8),(1.91,2.0),(1.94,1.75),(2.06,1.05),(2.08,0.8),(2.02,0.4),(2.20,1.4),(2.21,0.55),(2.28,0.75),(2.32,-0.1),(2.35,0.1),(2.38,0.05),(2.46,-0.05),(1.97,3.6),(2.08,3.6),(2.02,2.95),(2.12,2.8),(2.18,2.85),(2.28,2.8),(2.35,2.9),(2.33,4.15),(2.36,4.0),(2.40,4.35),(2.41,3.95),(2.50,3.6),(2.54,3.2),(2.39,2.8),(2.42,2.05),(2.46,1.15),(2.48,0.55),(2.60,4.35),(2.62,3.6),(2.63,2.9),(2.64,2.3),(2.75,3.9),(2.78,3.1),(2.80,1.65),(2.89,2.4),(2.94,3.15),(2.97,2.8),(2.94,-0.15),(2.79,-0.3),(2.52,-0.1),(3.07,0.1),(3.12,1.25),(3.15,0.75),(3.23,0.2),(3.25,-0.15),(3.35,-0.15),(3.06,2.9),(3.12,2.8),(3.15,2.85),(3.30,2.2),(3.26,3.75),(3.38,3.7),(3.41,3.7),(3.34,4.8),(1.47,4.45),(1.53,3.75),(1.65,3.8),(1.71,4.1),(1.49,5.05),(1.90,4.45),(1.94,4.3),(1.81,4.7),(2.12,5.0),(2.21,4.6)]

points = [
    [pts_spain_aff, pts_brazil_aff, pts_canada_aff],
    [pts_spain_cog, pts_brazil_cog, pts_canada_cog],
    [pts_spain_som, pts_brazil_som, pts_canada_som],
]

row_colors = ['#F8766D', '#00BA38', '#619CFF']
cutoff_colors = [['#333333', '#9a9a9a', '#9a9a9a'],
                 ['#8a8a8a', '#333333', '#333333'],
                 ['#dddddd', '#444444', '#444444']]

W, H = 1147, 927
fig = plt.figure(figsize=(W / 100, H / 100), dpi=100)


def px_axes(x, y, w, h):
    return fig.add_axes([x / W, 1 - (y + h) / H, w / W, h / H])


col_left = [60, 420, 781]
row_top = [45, 328, 611]
pw, ph = 350, 274
dark = '#333333'

for i, dom in enumerate(domains):
    for j, ctry in enumerate(countries):
        ax = px_axes(col_left[j], row_top[i], pw, ph)
        ax.set_xlim(-0.75, 4.75)
        ax.set_ylim(-1.44, 21.44)
        ax.set_xticks(range(5))
        ax.set_xticks(np.arange(-0.5, 4.6, 1), minor=True)
        ax.set_yticks(range(0, 21, 5))
        ax.set_yticks(np.arange(2.5, 20, 5), minor=True)
        ax.grid(which='major', color='#EBEBEB', lw=1.0)
        ax.grid(which='minor', color='#EBEBEB', lw=0.5)
        ax.set_axisbelow(True)
        for sp in ax.spines.values():
            sp.set_color(dark)
            sp.set_linewidth(0.9)

        pts = np.array(points[i][j])
        ax.text(0.985, 0.99, stats_text[i][j], transform=ax.transAxes,
                ha='right', va='top', fontsize=8.5, color='black', zorder=2)
        ax.scatter(pts[:, 0], pts[:, 1], s=28, color=row_colors[i],
                   alpha=0.6, linewidths=0, zorder=3)
        ax.axhline(cutoffs[i][j], color=cutoff_colors[i][j], lw=0.6,
                   ls=(0, (4, 4)), zorder=4)
        xs = np.array([0, fit_xmax[i]])
        ax.plot(xs, fit_intercept[i][j] + fit_slope[i][j] * xs,
                color='black', lw=1.0, zorder=5)

        ax.tick_params(which='minor', length=0)
        ax.tick_params(which='major', length=3.5, width=0.8, color=dark,
                       labelsize=10, labelcolor='#4D4D4D', pad=2)
        if j != 0:
            ax.tick_params(axis='y', length=0, labelleft=False)
        if i != 2:
            ax.tick_params(axis='x', length=0, labelbottom=False)

        # top strips
        if i == 0:
            sax = px_axes(col_left[j], 16, pw, 29)
            sax.set_facecolor('#D9D9D9')
            sax.set_xticks([]); sax.set_yticks([])
            for sp in sax.spines.values():
                sp.set_color(dark); sp.set_linewidth(0.9)
            sax.text(0.5, 0.5, ctry, ha='center', va='center',
                     fontsize=10, color='#1A1A1A', transform=sax.transAxes)
        # right strips (run past the figure edge, as in the original)
        if j == 2:
            sax = px_axes(1131, row_top[i], 29, ph)
            sax.set_facecolor('#D9D9D9')
            sax.set_xticks([]); sax.set_yticks([])
            for sp in sax.spines.values():
                sp.set_color(dark); sp.set_linewidth(0.9)
            sax.text(0.5, 0.5, dom, ha='center', va='center', rotation=-90,
                     fontsize=10, color='#1A1A1A', transform=sax.transAxes)

fig.text(22 / W, 1 - 464 / H, 'SRQ-20 Total Score', rotation=90,
         ha='center', va='center', fontsize=11.5, color='black')
fig.text(595 / W, 1 - 917 / H, 'MRhI-r sum', ha='center', va='center',
         fontsize=12, color='black')

fig.savefig('out.png', dpi=100)
